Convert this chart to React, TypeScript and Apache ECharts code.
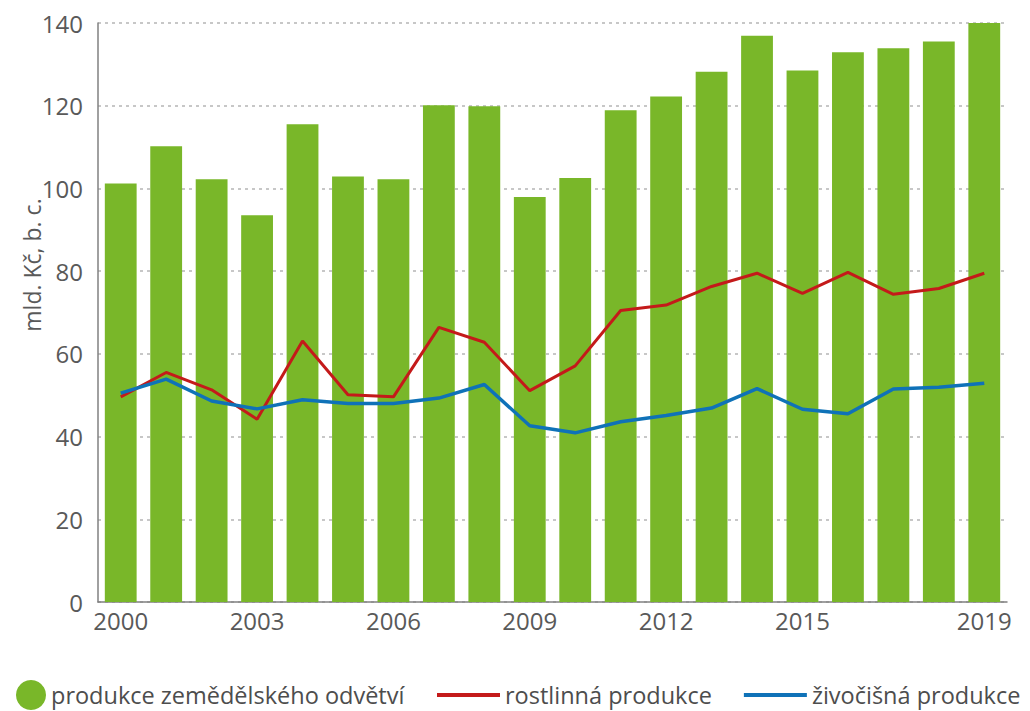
import React, { useEffect, useRef } from "react";
import * as echarts from "echarts";

const years = ["2000","2001","2002","2003","2004","2005","2006","2007","2008","2009","2010","2011","2012","2013","2014","2015","2016","2017","2018","2019"];
const totalProduction = [101.2,110.2,102.2,93.5,115.5,102.9,102.2,120.1,119.9,97.9,102.5,118.9,122.2,128.2,136.9,128.5,132.9,133.9,135.5,140.0];
const cropProduction = [49.6,55.5,51.3,44.2,63.1,50.1,49.6,66.4,62.8,51.1,57.1,70.5,71.8,76.3,79.5,74.6,79.7,74.4,75.8,79.5];
const animalProduction = [50.5,53.9,48.6,46.7,48.9,48.0,48.0,49.3,52.6,42.6,40.9,43.6,45.1,46.9,51.6,46.6,45.5,51.5,51.9,52.9];
const seriesNames = ["produkce zemědělského odvětví","rostlinná produkce","živočišná produkce"];
const yAxisTitle = "mld. Kč, b. c.";

const FONT = "'Open Sans', 'Noto Sans', sans-serif";

export default function App() {
  const ref = useRef<HTMLDivElement>(null);
  useEffect(() => {
    document.body.style.margin = "0";
    const chart = echarts.init(ref.current!, null, { renderer: "svg" });
    chart.setOption({
      animation: false,
      backgroundColor: "#ffffff",
      textStyle: { fontFamily: FONT },
      grid: { left: 98, right: 23, top: 23, bottom: 109, containLabel: false },
      legend: [
        {
          left: 16,
          top: 680,
          icon: "circle",
          itemWidth: 30,
          itemHeight: 30,
          padding: 0,
          data: [seriesNames[0]],
          textStyle: { fontSize: 23.5, lineHeight: 26, color: "#4d4d4d", fontFamily: FONT },
        },
        {
          left: 437,
          top: 682,
          icon: "rect",
          itemWidth: 63,
          itemHeight: 4,
          itemGap: 32,
          padding: 0,
          data: [seriesNames[1], seriesNames[2]],
          textStyle: { fontSize: 23.5, lineHeight: 26, color: "#4d4d4d", fontFamily: FONT },
        },
      ],
      xAxis: {
        type: "category",
        data: years,
        boundaryGap: true,
        axisLine: { lineStyle: { color: "#808080", width: 1.5 } },
        axisTick: { show: false },
        axisLabel: {
          interval: (index: number) => (index % 3 === 0 && index !== 18) || index === 19,
          color: "#595959",
          fontSize: 24,
          margin: 6,
          fontFamily: FONT,
        },
      },
      yAxis: {
        type: "value",
        min: 0,
        max: 140,
        interval: 20,
        axisLine: { show: true, lineStyle: { color: "#808080", width: 1.5 } },
        axisTick: { show: false },
        axisLabel: { color: "#595959", fontSize: 24, margin: 15, fontFamily: FONT },
        splitLine: { lineStyle: { color: "#b5b5b5", type: [3, 4], width: 1.5 } },
      },
      graphic: [
        {
          type: "text",
          x: 32,
          y: 265,
          rotation: Math.PI / 2,
          style: {
            text: yAxisTitle,
            fontSize: 23,
            fill: "#595959",
            fontFamily: FONT,
            textAlign: "center",
            textVerticalAlign: "middle",
          },
        },
      ],
      series: [
        {
          name: seriesNames[0],
          type: "bar",
          data: totalProduction,
          barCategoryGap: "30%",
          itemStyle: { color: "#79b729" },
        },
        {
          name: seriesNames[1],
          type: "line",
          data: cropProduction,
          symbol: "none",
          lineStyle: { color: "#c41a1a", width: 3 },
          itemStyle: { color: "#c41a1a" },
        },
        {
          name: seriesNames[2],
          type: "line",
          data: animalProduction,
          symbol: "none",
          lineStyle: { color: "#0f72b8", width: 3.5 },
          itemStyle: { color: "#0f72b8" },
        },
      ],
    });
    return () => chart.dispose();
  }, []);
  return <div ref={ref} style={{ position: "fixed", left: 0, top: 0, width: 1030, height: 711 }} />;
}
